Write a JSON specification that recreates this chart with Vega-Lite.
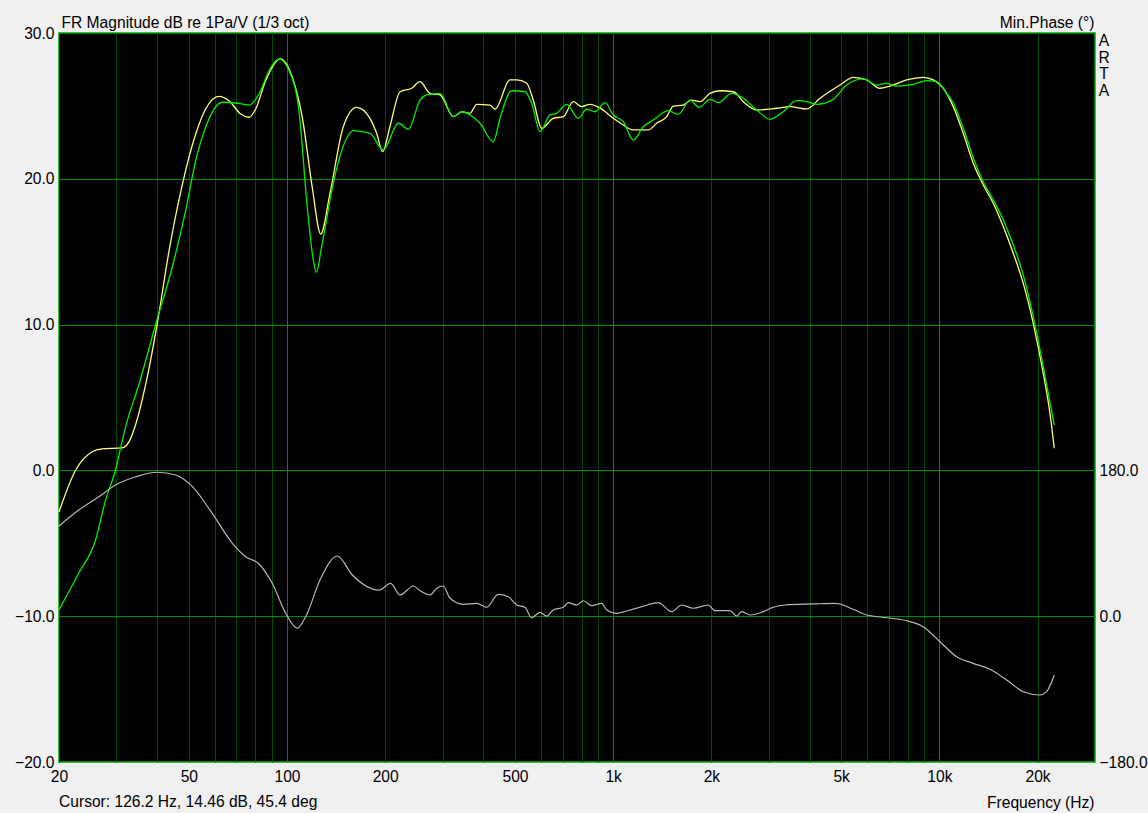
{
  "$schema": "https://vega.github.io/schema/vega-lite/v6.json",
  "width": 1036,
  "height": 729,
  "autosize": {"type": "none"},
  "padding": {"left": 59, "top": 33, "right": 53, "bottom": 51},
  "background": "#f0f0f0",
  "config": {
    "font": "Liberation Sans",
    "view": {"fill": "#000000", "stroke": "#00a800", "strokeWidth": 1.5},
    "axis": {
      "labelFont": "Liberation Sans",
      "labelFontSize": 15.6,
      "labelColor": "#000000",
      "titleFont": "Liberation Sans",
      "titleFontSize": 15.6,
      "titleFontWeight": "normal",
      "titleColor": "#000000",
      "ticks": false,
      "domain": false,
      "labelFlush": false,
      "labelOverlap": false
    }
  },
  "title": {
    "text": "Cursor: 126.2 Hz, 14.46 dB, 45.4 deg",
    "orient": "bottom",
    "anchor": "start",
    "frame": "group",
    "font": "Liberation Sans",
    "fontSize": 15.6,
    "fontWeight": "normal",
    "color": "#000000",
    "offset": 0,
    "dy": -16
  },
  "datasets": {
    "mag": [
      {"f": 20, "db": -2.85, "s": "A"}, {"f": 22.5, "db": 0.03, "s": "A"}, {"f": 25.3, "db": 1.28, "s": "A"}, {"f": 27.1, "db": 1.47, "s": "A"}, {"f": 31.2, "db": 1.54, "s": "A"}, {"f": 32.8, "db": 1.97, "s": "A"}, {"f": 34.4, "db": 3.18, "s": "A"}, {"f": 36.9, "db": 5.93, "s": "A"}, {"f": 40.0, "db": 10.04, "s": "A"}, {"f": 43.5, "db": 15.07, "s": "A"}, {"f": 47.8, "db": 19.64, "s": "A"}, {"f": 52.5, "db": 23.07, "s": "A"}, {"f": 56.3, "db": 24.79, "s": "A"}, {"f": 61.9, "db": 25.66, "s": "A"}, {"f": 66.4, "db": 25.36, "s": "A"}, {"f": 72.1, "db": 24.44, "s": "A"}, {"f": 76.5, "db": 24.22, "s": "A"}, {"f": 80.2, "db": 24.79, "s": "A"}, {"f": 86.0, "db": 26.73, "s": "A"}, {"f": 95.6, "db": 28.22, "s": "A"}, {"f": 103.8, "db": 26.96, "s": "A"}, {"f": 111.4, "db": 24.22, "s": "A"}, {"f": 119.5, "db": 19.42, "s": "A"}, {"f": 126.9, "db": 16.21, "s": "A"}, {"f": 135.5, "db": 19.01, "s": "A"}, {"f": 148.8, "db": 23.57, "s": "A"}, {"f": 163.5, "db": 24.9, "s": "A"}, {"f": 179.6, "db": 24.15, "s": "A"}, {"f": 188.3, "db": 23.12, "s": "A"}, {"f": 196.5, "db": 21.86, "s": "A"}, {"f": 206.8, "db": 23.57, "s": "A"}, {"f": 222.1, "db": 25.97, "s": "A"}, {"f": 241.2, "db": 26.21, "s": "A"}, {"f": 255.8, "db": 26.66, "s": "A"}, {"f": 274.4, "db": 25.86, "s": "A"}, {"f": 294.5, "db": 25.75, "s": "A"}, {"f": 323.6, "db": 24.26, "s": "A"}, {"f": 343.3, "db": 24.6, "s": "A"}, {"f": 364, "db": 24.49, "s": "A"}, {"f": 381.6, "db": 25.11, "s": "A"}, {"f": 419.3, "db": 25.06, "s": "A"}, {"f": 434.3, "db": 24.77, "s": "A"}, {"f": 482.6, "db": 26.78, "s": "A"}, {"f": 506, "db": 26.78, "s": "A"}, {"f": 543.1, "db": 26.55, "s": "A"}, {"f": 568.8, "db": 25.4, "s": "A"}, {"f": 603.8, "db": 23.46, "s": "A"}, {"f": 655.1, "db": 24.15, "s": "A"}, {"f": 703.3, "db": 24.26, "s": "A"}, {"f": 754.6, "db": 25.29, "s": "A"}, {"f": 800.8, "db": 24.95, "s": "A"}, {"f": 849, "db": 25.11, "s": "A"}, {"f": 911, "db": 24.86, "s": "A"}, {"f": 1000.8, "db": 24.15, "s": "A"}, {"f": 1074, "db": 23.69, "s": "A"}, {"f": 1152.6, "db": 23.35, "s": "A"}, {"f": 1281, "db": 23.35, "s": "A"}, {"f": 1359.6, "db": 23.81, "s": "A"}, {"f": 1459, "db": 24.26, "s": "A"}, {"f": 1528, "db": 24.99, "s": "A"}, {"f": 1640, "db": 25.06, "s": "A"}, {"f": 1741, "db": 25.4, "s": "A"}, {"f": 1845, "db": 25.29, "s": "A"}, {"f": 1980, "db": 25.86, "s": "A"}, {"f": 2126, "db": 26.04, "s": "A"}, {"f": 2336, "db": 25.97, "s": "A"}, {"f": 2506, "db": 25.29, "s": "A"}, {"f": 2754, "db": 24.72, "s": "A"}, {"f": 3172, "db": 24.84, "s": "A"}, {"f": 3484, "db": 24.95, "s": "A"}, {"f": 3920, "db": 24.79, "s": "A"}, {"f": 4306, "db": 25.52, "s": "A"}, {"f": 4960, "db": 26.43, "s": "A"}, {"f": 5446, "db": 26.96, "s": "A"}, {"f": 5988, "db": 26.78, "s": "A"}, {"f": 6577, "db": 26.21, "s": "A"}, {"f": 7056, "db": 26.36, "s": "A"}, {"f": 7938, "db": 26.78, "s": "A"}, {"f": 8924, "db": 26.96, "s": "A"}, {"f": 9576, "db": 26.78, "s": "A"}, {"f": 10278, "db": 26.21, "s": "A"}, {"f": 11030, "db": 24.95, "s": "A"}, {"f": 11838, "db": 23.12, "s": "A"}, {"f": 12706, "db": 21.06, "s": "A"}, {"f": 13636, "db": 19.57, "s": "A"}, {"f": 14632, "db": 18.32, "s": "A"}, {"f": 15706, "db": 16.71, "s": "A"}, {"f": 16852, "db": 14.89, "s": "A"}, {"f": 18082, "db": 12.83, "s": "A"}, {"f": 19402, "db": 10.09, "s": "A"}, {"f": 20820, "db": 6.66, "s": "A"}, {"f": 21826, "db": 3.92, "s": "A"}, {"f": 22503, "db": 1.52, "s": "A"},
      {"f": 20, "db": -9.57, "s": "B"}, {"f": 23.0, "db": -7.04, "s": "B"}, {"f": 25.9, "db": -4.77, "s": "B"}, {"f": 27.8, "db": -2.03, "s": "B"}, {"f": 29.8, "db": 0.03, "s": "B"}, {"f": 31.3, "db": 2.09, "s": "B"}, {"f": 32.0, "db": 2.98, "s": "B"}, {"f": 35.2, "db": 5.93, "s": "B"}, {"f": 39.6, "db": 10.04, "s": "B"}, {"f": 44.5, "db": 13.95, "s": "B"}, {"f": 48.9, "db": 17.81, "s": "B"}, {"f": 52.5, "db": 21.24, "s": "B"}, {"f": 56.3, "db": 23.53, "s": "B"}, {"f": 63.3, "db": 25.25, "s": "B"}, {"f": 69.6, "db": 25.2, "s": "B"}, {"f": 76.5, "db": 25.06, "s": "B"}, {"f": 82.1, "db": 25.82, "s": "B"}, {"f": 88.1, "db": 27.41, "s": "B"}, {"f": 94.5, "db": 28.22, "s": "B"}, {"f": 101.5, "db": 27.41, "s": "B"}, {"f": 108.8, "db": 24.67, "s": "B"}, {"f": 115.4, "db": 18.05, "s": "B"}, {"f": 120.4, "db": 14.43, "s": "B"}, {"f": 123.0, "db": 13.59, "s": "B"}, {"f": 127.7, "db": 15.34, "s": "B"}, {"f": 138.6, "db": 19.69, "s": "B"}, {"f": 152.4, "db": 22.78, "s": "B"}, {"f": 159.7, "db": 23.3, "s": "B"}, {"f": 179.6, "db": 23.12, "s": "B"}, {"f": 197.3, "db": 21.98, "s": "B"}, {"f": 219.5, "db": 23.81, "s": "B"}, {"f": 235.5, "db": 23.4, "s": "B"}, {"f": 255.8, "db": 25.4, "s": "B"}, {"f": 268.2, "db": 25.75, "s": "B"}, {"f": 294.5, "db": 25.86, "s": "B"}, {"f": 323.6, "db": 24.26, "s": "B"}, {"f": 343.3, "db": 24.6, "s": "B"}, {"f": 364, "db": 24.38, "s": "B"}, {"f": 390.6, "db": 23.81, "s": "B"}, {"f": 429.1, "db": 22.54, "s": "B"}, {"f": 449.8, "db": 24.15, "s": "B"}, {"f": 488.5, "db": 26.04, "s": "B"}, {"f": 536.6, "db": 25.97, "s": "B"}, {"f": 562.4, "db": 25.18, "s": "B"}, {"f": 596.6, "db": 23.23, "s": "B"}, {"f": 640.2, "db": 24.38, "s": "B"}, {"f": 671.2, "db": 24.49, "s": "B"}, {"f": 720.4, "db": 25.11, "s": "B"}, {"f": 781.6, "db": 24.15, "s": "B"}, {"f": 829.5, "db": 24.77, "s": "B"}, {"f": 879.6, "db": 24.6, "s": "B"}, {"f": 943.8, "db": 25.22, "s": "B"}, {"f": 1000.8, "db": 24.38, "s": "B"}, {"f": 1074, "db": 23.92, "s": "B"}, {"f": 1152.6, "db": 22.66, "s": "B"}, {"f": 1236.6, "db": 23.57, "s": "B"}, {"f": 1327, "db": 24.03, "s": "B"}, {"f": 1475.6, "db": 24.67, "s": "B"}, {"f": 1582.6, "db": 24.42, "s": "B"}, {"f": 1720, "db": 25.4, "s": "B"}, {"f": 1836.6, "db": 24.9, "s": "B"}, {"f": 1980, "db": 25.45, "s": "B"}, {"f": 2100, "db": 25.22, "s": "B"}, {"f": 2308, "db": 25.86, "s": "B"}, {"f": 2506, "db": 25.52, "s": "B"}, {"f": 2754, "db": 24.72, "s": "B"}, {"f": 3024, "db": 24.08, "s": "B"}, {"f": 3322, "db": 24.6, "s": "B"}, {"f": 3652, "db": 25.36, "s": "B"}, {"f": 3920, "db": 25.29, "s": "B"}, {"f": 4206, "db": 25.11, "s": "B"}, {"f": 4728, "db": 25.45, "s": "B"}, {"f": 5198, "db": 26.43, "s": "B"}, {"f": 5844, "db": 26.85, "s": "B"}, {"f": 6424, "db": 26.43, "s": "B"}, {"f": 6894, "db": 26.55, "s": "B"}, {"f": 7312, "db": 26.36, "s": "B"}, {"f": 8318, "db": 26.48, "s": "B"}, {"f": 9142, "db": 26.73, "s": "B"}, {"f": 9810, "db": 26.66, "s": "B"}, {"f": 10532, "db": 25.86, "s": "B"}, {"f": 11030, "db": 25.2, "s": "B"}, {"f": 11838, "db": 23.48, "s": "B"}, {"f": 12706, "db": 21.43, "s": "B"}, {"f": 13636, "db": 19.78, "s": "B"}, {"f": 14632, "db": 18.55, "s": "B"}, {"f": 15706, "db": 17.17, "s": "B"}, {"f": 16852, "db": 15.46, "s": "B"}, {"f": 18082, "db": 13.4, "s": "B"}, {"f": 19402, "db": 10.54, "s": "B"}, {"f": 20820, "db": 7.11, "s": "B"}, {"f": 22503, "db": 3.11, "s": "B"}
    ],
    "phase": [
      {"f": 20, "deg": 111.4}, {"f": 23.0, "deg": 131.1}, {"f": 26.5, "deg": 147.5}, {"f": 29.8, "deg": 162.0}, {"f": 34.4, "deg": 172.2}, {"f": 40.0, "deg": 177.7}, {"f": 45.6, "deg": 174.3}, {"f": 51.3, "deg": 159.9}, {"f": 59.0, "deg": 127.0}, {"f": 68.0, "deg": 90.0}, {"f": 74.7, "deg": 73.5}, {"f": 82.1, "deg": 64.4}, {"f": 90.1, "deg": 40.6}, {"f": 99.1, "deg": 3.6}, {"f": 107.5, "deg": -14.9}, {"f": 114.1, "deg": -0.6}, {"f": 126.9, "deg": 46.8}, {"f": 142.6, "deg": 74.3}, {"f": 158.6, "deg": 50.9}, {"f": 191.4, "deg": 32.3}, {"f": 207.8, "deg": 40.6}, {"f": 222.1, "deg": 26.2}, {"f": 243.9, "deg": 37.3}, {"f": 255.8, "deg": 31.5}, {"f": 274.4, "deg": 26.2}, {"f": 287.7, "deg": 34.4}, {"f": 301.4, "deg": 37.3}, {"f": 316, "deg": 22.1}, {"f": 347.3, "deg": 14.7}, {"f": 381.6, "deg": 15.9}, {"f": 409.4, "deg": 11.0}, {"f": 444.4, "deg": 27.0}, {"f": 477, "deg": 24.1}, {"f": 506, "deg": 13.8}, {"f": 536.6, "deg": 11.0}, {"f": 562.4, "deg": -1.9}, {"f": 596.6, "deg": 4.8}, {"f": 625.5, "deg": 0.2}, {"f": 655.1, "deg": 7.7}, {"f": 703.3, "deg": 11.0}, {"f": 728.4, "deg": 16.7}, {"f": 772.8, "deg": 13.8}, {"f": 810, "deg": 19.1}, {"f": 859.1, "deg": 13.0}, {"f": 922.2, "deg": 15.9}, {"f": 955.2, "deg": 7.7}, {"f": 1025, "deg": 3.6}, {"f": 1126, "deg": 7.7}, {"f": 1208, "deg": 11.0}, {"f": 1375, "deg": 16.7}, {"f": 1511, "deg": 5.6}, {"f": 1622, "deg": 13.8}, {"f": 1760, "deg": 9.8}, {"f": 1957, "deg": 13.8}, {"f": 2052, "deg": 6.8}, {"f": 2280, "deg": 6.8}, {"f": 2392, "deg": 0.2}, {"f": 2476, "deg": 5.6}, {"f": 2626, "deg": 1.5}, {"f": 2886, "deg": 5.6}, {"f": 3096, "deg": 11.0}, {"f": 3362, "deg": 13.8}, {"f": 4106, "deg": 15.1}, {"f": 4786, "deg": 15.9}, {"f": 4960, "deg": 15.1}, {"f": 5446, "deg": 8.5}, {"f": 5988, "deg": 1.5}, {"f": 6894, "deg": -1.9}, {"f": 7938, "deg": -5.6}, {"f": 8924, "deg": -13.0}, {"f": 10040, "deg": -31.5}, {"f": 11298, "deg": -50.0}, {"f": 12706, "deg": -58.2}, {"f": 14296, "deg": -65.6}, {"f": 16082, "deg": -78.8}, {"f": 18082, "deg": -93.2}, {"f": 20340, "deg": -97.3}, {"f": 21320, "deg": -93.2}, {"f": 22503, "deg": -72.6}
    ]
  },
  "layer": [
    {
      "data": {"name": "mag"},
      "mark": {"type": "line", "strokeWidth": 1.3, "interpolate": "monotone"},
      "encoding": {
        "x": {
          "field": "f",
          "type": "quantitative",
          "scale": {"type": "log", "domain": [20, 30000], "nice": false},
          "axis": {
            "values": [20, 30, 40, 50, 60, 70, 80, 90, 100, 200, 300, 400, 500, 600, 700, 800, 900, 1000, 2000, 3000, 4000, 5000, 6000, 7000, 8000, 9000, 10000, 20000],
            "grid": true,
            "gridWidth": 1,
            "gridColor": {"condition": {"test": "datum.value == 100 || datum.value == 1000 || datum.value == 10000", "value": "#008c00"}, "value": "#004c00"},
            "labelExpr": "indexof([20,50,100,200,500,1000,2000,5000,10000,20000], datum.value) >= 0 ? (datum.value >= 1000 ? (datum.value / 1000) + 'k' : '' + datum.value) : ''",
            "labelPadding": 7,
            "title": "Frequency (Hz)",
            "titleX": 1035,
            "titleY": 45,
            "titleAlign": "right",
            "titleBaseline": "alphabetic"
          }
        },
        "y": {
          "field": "db",
          "type": "quantitative",
          "scale": {"domain": [-20, 30], "nice": false, "zero": false},
          "axis": {
            "values": [-20, -10, 0, 10, 20, 30],
            "format": ".1f",
            "grid": true,
            "gridWidth": 1,
            "gridColor": {"condition": {"test": "datum.value > -20 && datum.value < 30", "value": "#008c00"}, "value": "transparent"},
            "labelPadding": 5,
            "title": "FR Magnitude dB re 1Pa/V (1/3 oct)",
            "titleAngle": 0,
            "titleX": 2,
            "titleY": -6,
            "titleAlign": "left",
            "titleBaseline": "alphabetic"
          }
        },
        "color": {"field": "s", "type": "nominal", "scale": {"domain": ["A", "B"], "range": ["#ffff78", "#00f000"]}, "legend": null}
      }
    },
    {
      "data": {"name": "phase"},
      "mark": {"type": "line", "strokeWidth": 1.2, "color": "#b8b8b8", "interpolate": "monotone"},
      "encoding": {
        "x": {"field": "f", "type": "quantitative"},
        "y": {
          "field": "deg",
          "type": "quantitative",
          "scale": {"domain": [-180, 720], "nice": false, "zero": false},
          "axis": {
            "orient": "right",
            "values": [-180, 0, 180],
            "format": ".1f",
            "grid": false,
            "labelPadding": 4,
            "title": "Min.Phase (°)",
            "titleAngle": 0,
            "titleX": -1,
            "titleY": -6,
            "titleAlign": "right",
            "titleBaseline": "alphabetic"
          }
        }
      }
    },
    {
      "mark": {"type": "rule", "color": "#c8c800", "strokeWidth": 1},
      "encoding": {"x": {"datum": 126.2}}
    },
    {
      "data": {"values": [{"f": 30000, "db": 30, "label": ["A", "R", "T", "A"]}]},
      "mark": {"type": "text", "font": "Liberation Sans", "fontSize": 15.6, "color": "#000000", "align": "center", "baseline": "top", "lineHeight": 16.7, "dx": 9, "dy": 1, "clip": false},
      "encoding": {
        "x": {"field": "f", "type": "quantitative"},
        "y": {"field": "db", "type": "quantitative", "scale": {"domain": [-20, 30], "nice": false, "zero": false}, "axis": null},
        "text": {"field": "label"}
      }
    }
  ],
  "resolve": {"scale": {"y": "independent"}, "axis": {"y": "independent"}}
}
